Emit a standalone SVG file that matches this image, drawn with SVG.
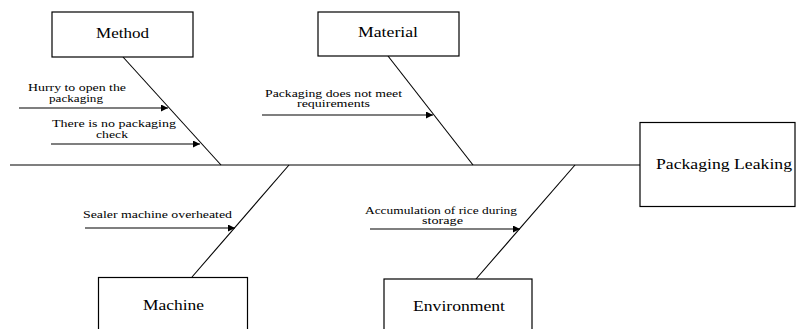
<svg xmlns="http://www.w3.org/2000/svg" width="796" height="329" viewBox="0 0 796 329">
<style>
.box{fill:#fff;stroke:#000;stroke-width:1.2}
.ln{fill:none;stroke:#000;stroke-width:1.1}
.t{font-family:"Liberation Serif","Times New Roman",serif;fill:#000}
.big{font-size:14px}
.sm{font-size:10.5px}
</style>
<defs>
<marker id="ah" viewBox="0 0 10 10" refX="10" refY="5" markerWidth="10" markerHeight="7" markerUnits="userSpaceOnUse" orient="auto">
<path d="M0,0 L10,5 L0,10 z" fill="#000"/>
</marker>
</defs>
<g id="connectors">
<line class="ln" x1="10" y1="165" x2="640" y2="165"/>
<line class="ln" x1="123" y1="57" x2="221" y2="165"/>
<line class="ln" x1="388" y1="56" x2="473" y2="165"/>
<line class="ln" x1="289" y1="165" x2="192" y2="277"/>
<line class="ln" x1="575" y1="165" x2="476" y2="279"/>
<line class="ln" x1="19" y1="108" x2="168" y2="108" marker-end="url(#ah)"/>
<line class="ln" x1="51" y1="144" x2="200" y2="144" marker-end="url(#ah)"/>
<line class="ln" x1="262" y1="115" x2="433" y2="115" marker-end="url(#ah)"/>
<line class="ln" x1="85" y1="228" x2="235" y2="228" marker-end="url(#ah)"/>
<line class="ln" x1="370" y1="229" x2="520" y2="229" marker-end="url(#ah)"/>
</g>
<g id="method">
<rect class="box" x="52" y="12" width="141" height="45"/>
<text class="t big" x="96" y="38" textLength="53" lengthAdjust="spacingAndGlyphs">Method</text>
</g>
<g id="material">
<rect class="box" x="318" y="12" width="141" height="44"/>
<text class="t big" x="358" y="37" textLength="60" lengthAdjust="spacingAndGlyphs">Material</text>
</g>
<g id="machine">
<rect class="box" x="98.5" y="277.5" width="149" height="70"/>
<text class="t big" x="143" y="310" textLength="61" lengthAdjust="spacingAndGlyphs">Machine</text>
</g>
<g id="environment">
<rect class="box" x="384" y="279" width="148" height="70"/>
<text class="t big" x="413" y="310.5" textLength="92" lengthAdjust="spacingAndGlyphs">Environment</text>
</g>
<g id="packaging-leaking">
<rect class="box" x="640" y="122.5" width="155" height="84"/>
<text class="t big" x="656" y="169" textLength="136" lengthAdjust="spacingAndGlyphs">Packaging Leaking</text>
</g>
<g id="cause-hurry">
<text class="t sm" x="28" y="91" textLength="98" lengthAdjust="spacingAndGlyphs">Hurry to open the</text>
<text class="t sm" x="49" y="102" textLength="54" lengthAdjust="spacingAndGlyphs">packaging</text>
</g>
<g id="cause-no-check">
<text class="t sm" x="52" y="126.5" textLength="124" lengthAdjust="spacingAndGlyphs">There is no packaging</text>
<text class="t sm" x="96" y="138" textLength="32" lengthAdjust="spacingAndGlyphs">check</text>
</g>
<g id="cause-packaging">
<text class="t sm" x="265" y="96.5" textLength="137" lengthAdjust="spacingAndGlyphs">Packaging does not meet</text>
<text class="t sm" x="297" y="107" textLength="73" lengthAdjust="spacingAndGlyphs">requirements</text>
</g>
<g id="cause-sealer">
<text class="t sm" x="83" y="218" textLength="149" lengthAdjust="spacingAndGlyphs">Sealer machine overheated</text>
</g>
<g id="cause-rice">
<text class="t sm" x="365" y="213.5" textLength="152" lengthAdjust="spacingAndGlyphs">Accumulation of rice during</text>
<text class="t sm" x="422" y="224" textLength="41" lengthAdjust="spacingAndGlyphs">storage</text>
</g>
</svg>
